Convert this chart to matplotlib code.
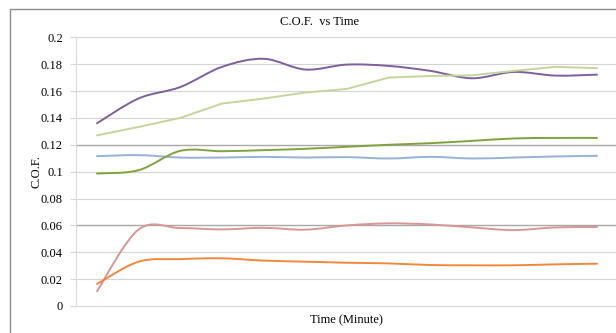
#import libraries
import numpy as np
import matplotlib
matplotlib.use('Agg')
from matplotlib import pyplot as plt
from matplotlib.path import Path
from matplotlib.patches import PathPatch, Rectangle

#matplotlib parameters
plt.rcParams['font.family'] = ['Liberation Serif', 'DejaVu Serif']
plt.rcParams['font.size'] = 9

#data (13 readings per run)
time_steps = list(range(13))
cof_purple = [0.136, 0.1545, 0.163, 0.178, 0.184, 0.176, 0.1797, 0.1787, 0.175, 0.1695, 0.1742, 0.1715, 0.1722]
cof_lightgreen = [0.127, 0.1333, 0.140, 0.1507, 0.1544, 0.1589, 0.1616, 0.170, 0.1712, 0.1717, 0.175, 0.178, 0.177]
cof_green = [0.0986, 0.1011, 0.1155, 0.1152, 0.116, 0.117, 0.1185, 0.120, 0.1212, 0.1229, 0.1247, 0.1251, 0.1251]
cof_blue = [0.1115, 0.1123, 0.1105, 0.1105, 0.111, 0.1105, 0.1108, 0.1098, 0.111, 0.1098, 0.1105, 0.1113, 0.1118]
cof_pink = [0.011, 0.057, 0.058, 0.057, 0.0582, 0.0568, 0.060, 0.0615, 0.0607, 0.0585, 0.0565, 0.0585, 0.0588]
cof_orange = [0.0164, 0.033, 0.0349, 0.0355, 0.0338, 0.033, 0.0322, 0.0317, 0.0305, 0.0303, 0.0303, 0.031, 0.0315]

# (values, colour, smoothed?)
series = [(cof_pink, '#D99694', True), (cof_orange, '#F0893E', True), (cof_blue, '#95B3D7', True),
          (cof_green, '#7FA43F', True), (cof_lightgreen, '#C3D69B', False), (cof_purple, '#7F5FA0', True)]

def smooth_path(xs, ys):
    # excel style smoothed line: cubic bezier through every point
    pts = np.column_stack([xs, ys]).astype(float)
    padded = np.vstack([pts[0], pts, pts[-1]])
    verts = [pts[0]]
    codes = [Path.MOVETO]
    for i in range(len(pts) - 1):
        p0, p1, p2, p3 = padded[i], padded[i + 1], padded[i + 2], padded[i + 3]
        verts += [p1 + (p2 - p0) / 6, p2 - (p3 - p1) / 6, p2]
        codes += [Path.CURVE4] * 3
    return Path(verts, codes)

fig = plt.figure(figsize=(6.16, 3.33), dpi=100)
ax = fig.add_axes([76/616, 27/333, 540/616, 268.7/333])

for ys, col, smooth in series:
    if smooth:
        patch = PathPatch(smooth_path(time_steps, ys), facecolor='none', edgecolor=col,
                          lw=1.4, capstyle='round', joinstyle='round')
        ax.add_patch(patch)
    else:
        ax.plot(time_steps, ys, color=col, lw=1.4, solid_capstyle='round')

ax.set_xlim(-0.504, 12.456)
ax.set_ylim(0, 0.2)
yt = np.arange(0, 0.201, 0.02)
ax.set_yticks(yt)
ax.set_yticklabels(['0'] + ['%g' % round(v, 2) for v in yt[1:]])
ax.set_xticks([])

#gridlines, some drawn darker like the original
for v in yt[1:]:
    dark = round(v, 2) in (0.06, 0.12)
    ax.axhline(v, color='#A8A8A8' if dark else '#D4D4D4', lw=1.0 if dark else 0.8, zorder=0)

for s in ['top', 'right']:
    ax.spines[s].set_visible(False)
ax.spines['left'].set_color('#D9D9D9')
ax.spines['bottom'].set_color('#D9D9D9')
ax.tick_params(axis='y', length=4, color='#D4D4D4', pad=5.5, labelsize=9)

fig.text(320/616, 1 - 22/333, 'C.O.F.  vs Time', ha='center', va='center', fontsize=9)
ax.set_ylabel('C.O.F.', fontsize=9, labelpad=-1)
ax.set_xlabel('Time (Minute)', fontsize=9, labelpad=6)

#outer chart border
fig.patches.append(Rectangle((9.5/616, -0.1), 1.0, 1.1 - 8.5/333,
                             transform=fig.transFigure, fill=False,
                             edgecolor='#8C8C8C', lw=1.0))

fig.savefig('out.png', dpi=100)
